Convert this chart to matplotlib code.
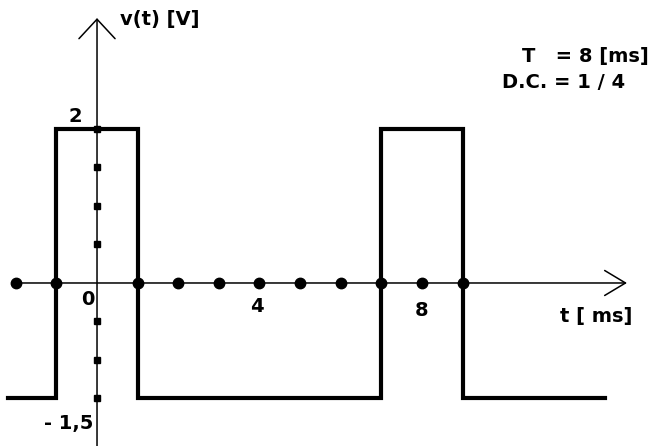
import numpy as np
import matplotlib.pyplot as plt

# square wave, T = 8 ms, duty cycle 1/4
t_wave = [-2.2, -1, -1, 1, 1, 7, 7, 9, 9, 12.5]
v_wave = [-1.5, -1.5, 2, 2, -1.5, -1.5, 2, 2, -1.5, -1.5]

# dots on the t axis (ms) and squares on the v axis (V)
t_marks = [-2, -1, 1, 2, 3, 4, 5, 6, 7, 8, 9]
v_marks = [2, 1.5, 1, 0.5, -0.5, -1, -1.5]

t_labels = [(0, "0"), (4, "4"), (8, "8")]


def main():
    fig = plt.figure(figsize=(6.55, 4.46), dpi=100)
    ax = fig.add_axes([0, 0, 1, 1])
    ax.set_xlim(-2.389, 13.74)
    ax.set_ylim(-2.117, 3.675)
    ax.axis("off")

    fs = 14
    font = dict(family="DejaVu Sans", weight="bold", fontsize=fs)

    # axes with open arrow heads
    ax.annotate("", xy=(13.05, 0), xytext=(-1.9, 0),
                arrowprops=dict(arrowstyle="->,head_length=1.5,head_width=0.9",
                                lw=1.1, color="black", shrinkA=0, shrinkB=0))
    ax.annotate("", xy=(0, 3.44), xytext=(0, -2.2),
                arrowprops=dict(arrowstyle="->,head_length=1.4,head_width=1.3",
                                lw=1.1, color="black", shrinkA=0, shrinkB=0))

    # signal
    ax.plot(t_wave, v_wave, color="black", lw=3, solid_joinstyle="miter")

    ax.plot(t_marks, np.zeros(len(t_marks)), "o", color="black", ms=7.5)
    ax.plot(np.zeros(len(v_marks)), v_marks, "s", color="black", ms=5)

    # labels
    ax.text(0.57, 3.42, "v(t) [V]", ha="left", va="center", **font)
    ax.text(-0.54, 2.16, "2", ha="center", va="center", **font)
    ax.text(-0.1, -1.82, "- 1,5", ha="right", va="center", **font)
    ax.text(-0.22, -0.21, t_labels[0][1], ha="center", va="center", **font)
    ax.text(t_labels[1][0] - 0.06, -0.30, t_labels[1][1], ha="center", va="center", **font)
    ax.text(t_labels[2][0], -0.36, t_labels[2][1], ha="center", va="center", **font)
    ax.text(11.4, -0.43, "t [ ms]", ha="left", va="center", **font)
    ax.text(10.47, 2.94, "T   = 8 [ms]", ha="left", va="center", **font)
    ax.text(9.98, 2.60, "D.C. = 1 / 4", ha="left", va="center", **font)

    fig.savefig("out.png", dpi=100)


if __name__ == "__main__":
    main()
